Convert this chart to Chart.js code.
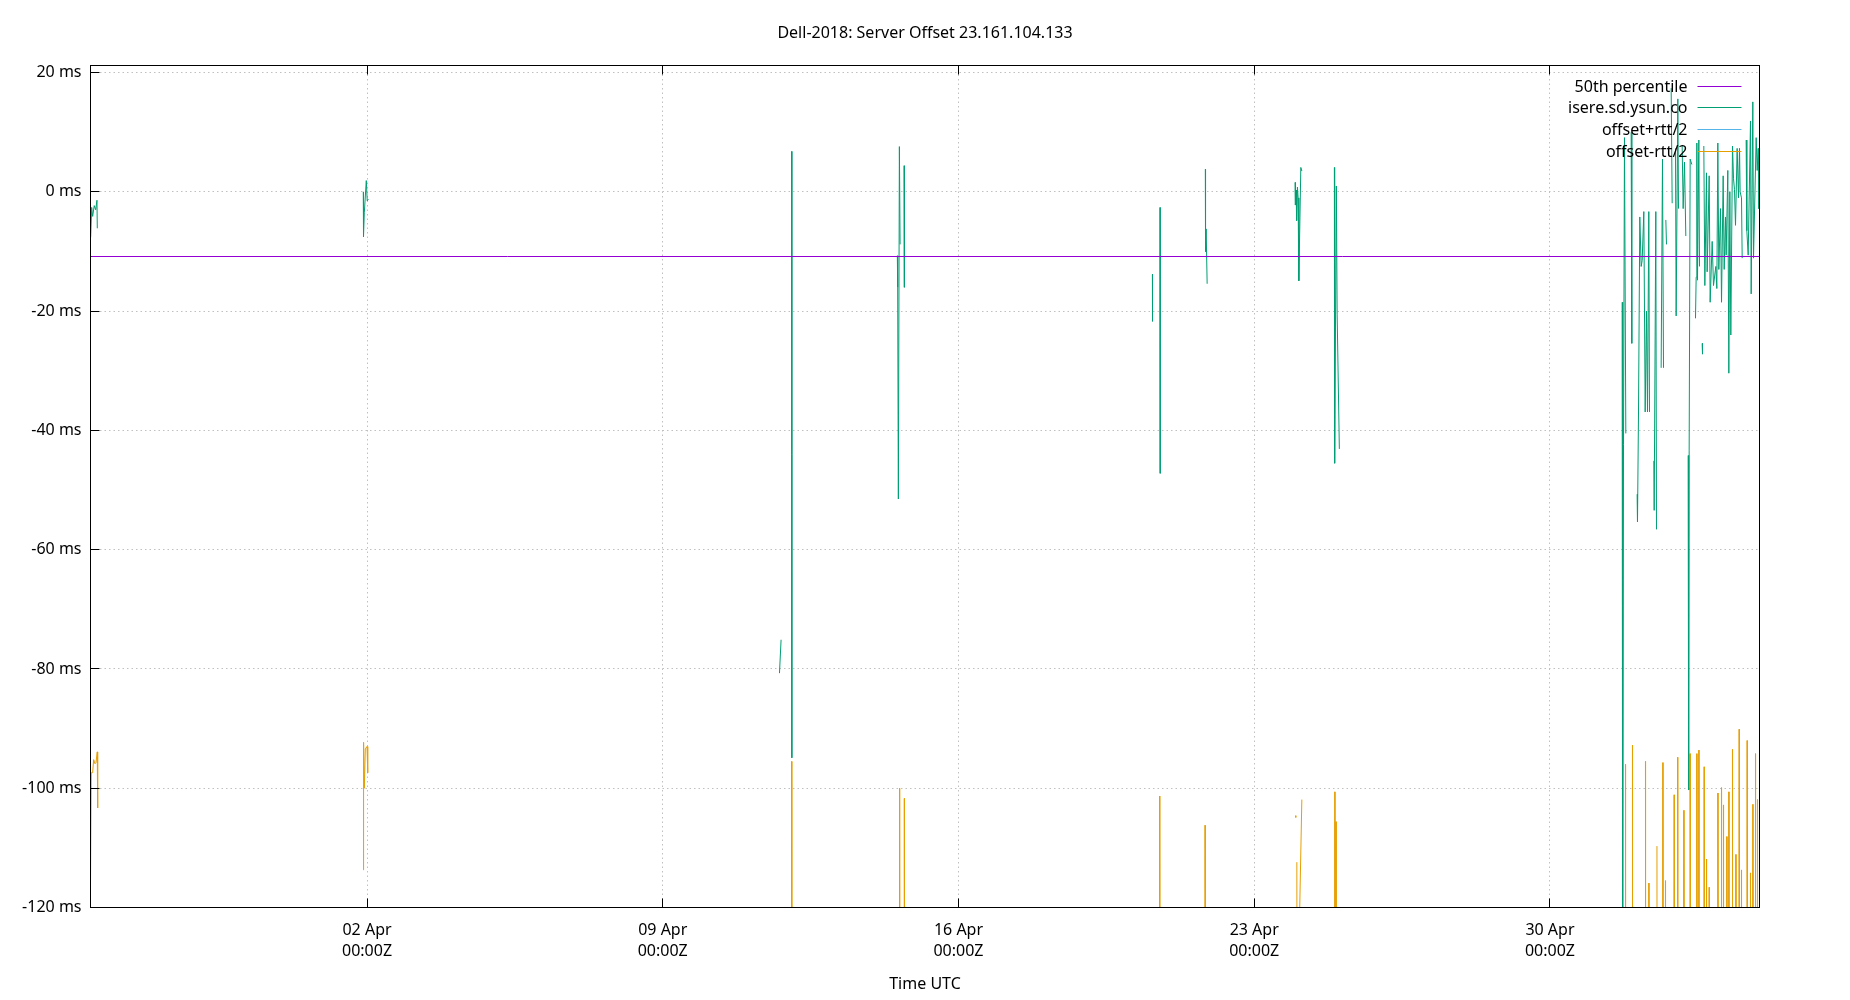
<!DOCTYPE html>
<html lang="en">
<head>
<meta charset="utf-8">
<title>Dell-2018: Server Offset 23.161.104.133</title>
<script src="https://cdn.jsdelivr.net/npm/chart.js@4.4.1/dist/chart.umd.min.js"></script>
<style>
  html, body { margin: 0; padding: 0; background: #fff; }
  #chart { display: block; }
</style>
</head>
<body>
<canvas id="chart" width="1850" height="1000"></canvas>
<script>
// x = days since 02 Apr 2018 00:00Z, y = milliseconds
const xRange = [-6.545, 32.96];
const tickDays = [0, 7, 14, 21, 28];
const tickDates = ['02 Apr', '09 Apr', '16 Apr', '23 Apr', '30 Apr'];
const tickTime = '00:00Z';
const yTicks = [-120, -100, -80, -60, -40, -20, 0, 20];
const yRange = [-120, 21.2];

const seriesNames = ['50th percentile', 'isere.sd.ysun.co', 'offset+rtt/2', 'offset-rtt/2'];
const seriesColors = ['#9400d3', '#009e73', '#56b4e9', '#e69f00'];

// null = break in the line
const percentile50 = [[-6.545, -10.83], [32.96, -10.83]];

const serverOffset = [
  [-6.541, -7.6], [-6.517, -2.6], [-6.494, -4.1], [-6.456, -2.3], [-6.422, -3.0], [-6.392, -1.4], [-6.384, -6.1], null,
  [-0.088, 0.0], [-0.083, -7.5], [-0.064, -3.5], [-0.017, 1.9], [0.005, -1.5], [0.031, -1.2], null,
  [9.763, -80.7], [9.801, -75.1], null,
  [10.053, 6.8], [10.056, -94.9], null,
  [12.553, -10.7], [12.561, -16.0], [12.577, -51.5], [12.601, 7.6], [12.618, -8.8], null,
  [12.712, 4.4], [12.719, -16.0], null,
  [18.590, -13.8], [18.593, -21.7], null,
  [18.770, -2.6], [18.775, -47.2], null,
  [19.843, 3.8], [19.848, -10.0], [19.862, -6.2], [19.886, -15.4], null,
  [21.968, 1.6], [21.975, -2.2], [21.992, 0.3], [22.004, -4.8], [22.023, 0.8], [22.039, -1.0], [22.056, -14.9], [22.103, 4.1], [22.127, 3.5], null,
  [22.897, 4.1], [22.904, -45.5], [22.944, 1.0], [22.963, -20.5], [23.015, -43.1], null,
  [29.709, -18.5], [29.721, -130], [29.741, -42.4], [29.764, 9.1], [29.796, -40.5], null,
  [29.922, 10.0], [29.938, -25.4], null,
  [30.064, -50.7], [30.072, -55.3], [30.096, -36.9], [30.127, -4.2], [30.159, -12.5], [30.183, -11.5], [30.222, -3.3],
  [30.254, -36.9], [30.285, -20.0], [30.309, -36.9], [30.340, -3.3], [30.356, -36.9], null,
  [30.459, -45.1], [30.467, -53.4], [30.506, -3.3], [30.522, -56.6], null,
  [30.632, -29.5], [30.664, 5.5], [30.688, -29.5], null,
  [30.743, -4.7], [30.759, -8.8], null,
  [30.869, 17.4], [30.893, -1.9], null,
  [30.972, 7.3], [30.987, -20.8], [31.027, 15.6], [31.043, -2.8], null,
  [31.129, 7.8], [31.153, -2.8], [31.185, 5.0], [31.216, -7.4], null,
  [31.271, -44.2], [31.283, -100.3], [31.295, -43.3], [31.319, 5.5], [31.358, 4.6], null,
  [31.445, -21.2], [31.461, -14.3], [31.477, 8.2], [31.492, -14.8], [31.524, 8.7], [31.540, -12.5], null,
  [31.603, -25.4], [31.611, -27.2], null,
  [31.642, 7.7], [31.666, -15.7], [31.705, 3.2], [31.721, -13.4], [31.769, 2.7], [31.792, -18.5], [31.840, -8.3],
  [31.871, -15.7], [31.926, -12.5], [31.950, -16.2], [31.974, 8.2], [31.997, -13.0], [32.037, -2.8], [32.061, -18.5],
  [32.100, 2.7], [32.124, -13.0], [32.155, -4.2], [32.171, -10.6], [32.210, 3.6], [32.234, -30.4], [32.258, 0.0],
  [32.281, -24.0], [32.321, 7.7], [32.345, 2.2], [32.368, 0.4], [32.392, -5.6], [32.431, 7.3], [32.463, -1.0],
  [32.487, 7.3], [32.502, 0.0], [32.534, -1.0], [32.550, -11.1], null,
  [32.644, 8.7], [32.660, -6.5], [32.692, -10.6], [32.747, 11.9], [32.763, -17.1], [32.802, 15.1], [32.818, -11.1],
  [32.881, 9.1], [32.905, 3.6], [32.929, 7.3], [32.944, -2.8], [32.950, 6.0],
];

// offset+rtt/2 stays above the top of the plot for the whole period
const offsetPlusRtt = [];

const offsetMinusRtt = [
  [-6.545, -116], [-6.527, -97.4], [-6.494, -97.4], [-6.470, -95.2], [-6.439, -95.9], [-6.415, -95.7], [-6.385, -93.9], [-6.375, -103.3], null,
  [-0.088, -113.7], [-0.081, -92.3], [-0.064, -100.0], [-0.040, -93.4], [0.000, -93.0], [0.017, -97.4], null,
  [10.052, -95.5], [10.055, -140], null,
  [12.604, -100.0], [12.608, -140], null,
  [12.717, -101.7], [12.721, -140], null,
  [18.761, -101.3], [18.765, -140], null,
  [19.836, -106.2], [19.840, -140], null,
  [21.982, -104.6], [21.984, -104.9], null,
  [22.009, -112.4], [22.013, -140], null,
  [22.075, -121], [22.127, -101.9], null,
  [22.908, -100.6], [22.911, -140], null,
  [22.936, -105.6], [22.939, -140], null,
  [29.788, -96.0], [29.790, -140], null,
  [29.953, -92.8], [29.955, -140], null,
  [30.261, -95.5], [30.263, -140], null,
  [30.341, -115.9], [30.343, -140], null,
  [30.533, -109.7], [30.535, -140], null,
  [30.673, -95.7], [30.675, -140], null,
  [30.734, -115.5], [30.736, -140], null,
  [30.940, -101.1], [30.942, -140], null,
  [31.023, -94.8], [31.025, -140], null,
  [31.170, -103.7], [31.172, -140], null,
  [31.319, -94.2], [31.321, -140], null,
  [31.477, -94.2], [31.479, -140], null,
  [31.525, -93.6], [31.527, -140], null,
  [31.650, -96.4], [31.652, -140], null,
  [31.705, -111.9], [31.707, -140], null,
  [31.769, -116.6], [31.771, -140], null,
  [31.975, -100.8], [31.977, -140], null,
  [32.060, -99.9], [32.062, -140], null,
  [32.107, -102.8], [32.109, -140], null,
  [32.187, -108.1], [32.189, -140], null,
  [32.235, -100.6], [32.237, -140], null,
  [32.320, -93.5], [32.322, -140], null,
  [32.401, -111.1], [32.403, -140], null,
  [32.479, -90.1], [32.481, -140], null,
  [32.533, -113.7], [32.535, -140], null,
  [32.668, -92.0], [32.670, -140], null,
  [32.746, -114.2], [32.748, -140], null,
  [32.803, -102.7], [32.805, -140], null,
  [32.865, -94.2], [32.867, -140], null,
  [32.912, -101.9], [32.914, -140],
];

// [day, ms] rows -> chart.js points, null rows become gaps
function toPoints(rows) {
  const out = [];
  let lastX = 0;
  rows.forEach((row) => {
    if (row === null) {
      out.push({ x: lastX, y: null });
      return;
    }
    lastX = row[0];
    out.push({ x: row[0], y: row[1] });
  });
  return out;
}

// gnuplot-like frame: solid border plus short inward tick marks
const plotFrame = {
  id: 'plotFrame',
  afterDraw(chart) {
    const { ctx, chartArea: { left, top, right, bottom }, scales: { x, y } } = chart;
    const tick = 9;
    ctx.save();
    ctx.strokeStyle = '#000';
    ctx.lineWidth = 1;
    ctx.beginPath();
    tickDays.forEach((d) => {
      const px = Math.floor(x.getPixelForValue(d)) + 0.5;
      ctx.moveTo(px, bottom);
      ctx.lineTo(px, bottom - tick);
      ctx.moveTo(px, top);
      ctx.lineTo(px, top + tick);
    });
    yTicks.forEach((v) => {
      const py = Math.floor(y.getPixelForValue(v)) + 0.5;
      ctx.moveTo(left, py);
      ctx.lineTo(left + tick, py);
    });
    ctx.stroke();
    ctx.strokeRect(left, top, right - left, bottom - top);
    ctx.restore();
  },
};

// key in the top right corner, text first then the line sample
const plotKey = {
  id: 'plotKey',
  afterDatasetsDraw(chart) {
    const { ctx, chartArea: { top, right } } = chart;
    ctx.save();
    ctx.font = "16px 'Noto Sans'";
    ctx.textAlign = 'right';
    ctx.textBaseline = 'middle';
    chart.data.datasets.forEach((ds, i) => {
      const ly = Math.floor(top + 20.5 + i * 21.8) + 0.5;
      ctx.fillStyle = '#000';
      ctx.fillText(ds.label, right - 72, ly + 1);
      ctx.strokeStyle = ds.borderColor;
      ctx.lineWidth = 1;
      ctx.beginPath();
      ctx.moveTo(right - 62, ly);
      ctx.lineTo(right - 18, ly);
      ctx.stroke();
    });
    ctx.restore();
  },
};

Chart.defaults.font.family = "'Noto Sans', sans-serif";
Chart.defaults.font.size = 16;
Chart.defaults.color = '#000';

const seriesData = [percentile50, serverOffset, offsetPlusRtt, offsetMinusRtt];

const chart = new Chart(document.getElementById('chart'), {
  type: 'line',
  data: {
    datasets: seriesData.map((rows, i) => ({
      label: seriesNames[i],
      data: toPoints(rows),
      borderColor: seriesColors[i],
      backgroundColor: seriesColors[i],
      borderWidth: 1,
      pointRadius: 0,
      tension: 0,
      fill: false,
      spanGaps: false,
    })),
  },
  options: {
    responsive: false,
    animation: false,
    devicePixelRatio: 1,
    layout: { padding: 0 },
    plugins: {
      legend: { display: false },
      tooltip: { enabled: false },
      title: {
        display: true,
        text: 'Dell-2018: Server Offset 23.161.104.133',
        font: { size: 16, weight: 'normal' },
        color: '#000',
        padding: { top: 23.4, bottom: 22.9 },
      },
    },
    scales: {
      x: {
        type: 'linear',
        min: xRange[0],
        max: xRange[1],
        afterBuildTicks: (scale) => {
          scale.ticks = tickDays.map((v) => ({ value: v }));
        },
        afterFit: (scale) => { scale.height = 92.5; },
        ticks: {
          autoSkip: false,
          maxRotation: 0,
          padding: 11.75,
          font: { size: 16, lineHeight: 1.344 },
          color: '#000',
          callback: (value) => [tickDates[tickDays.indexOf(value)], tickTime],
        },
        grid: { color: '#c0c0c0', lineWidth: 1, drawTicks: false },
        border: { display: false, dash: [1.5, 3] },
        title: {
          display: true,
          text: 'Time UTC',
          font: { size: 16 },
          color: '#000',
          padding: { top: 4, bottom: 6.4 },
        },
      },
      y: {
        type: 'linear',
        min: yRange[0],
        max: yRange[1],
        afterBuildTicks: (scale) => {
          scale.ticks = yTicks.map((v) => ({ value: v }));
        },
        afterFit: (scale) => { scale.width = 90.5; },
        ticks: {
          padding: 9,
          color: '#000',
          callback: (value) => `${value} ms`,
        },
        grid: { color: '#c0c0c0', lineWidth: 1, drawTicks: false },
        border: { display: false, dash: [1.5, 3] },
      },
      // empty right margin, keeps the title centred over the plot
      yRight: {
        type: 'linear',
        position: 'right',
        min: yRange[0],
        max: yRange[1],
        afterFit: (scale) => { scale.width = 90.5; },
        ticks: { display: false },
        grid: { display: false },
        border: { display: false },
      },
    },
  },
  plugins: [plotKey, plotFrame],
});
</script>
</body>
</html>
